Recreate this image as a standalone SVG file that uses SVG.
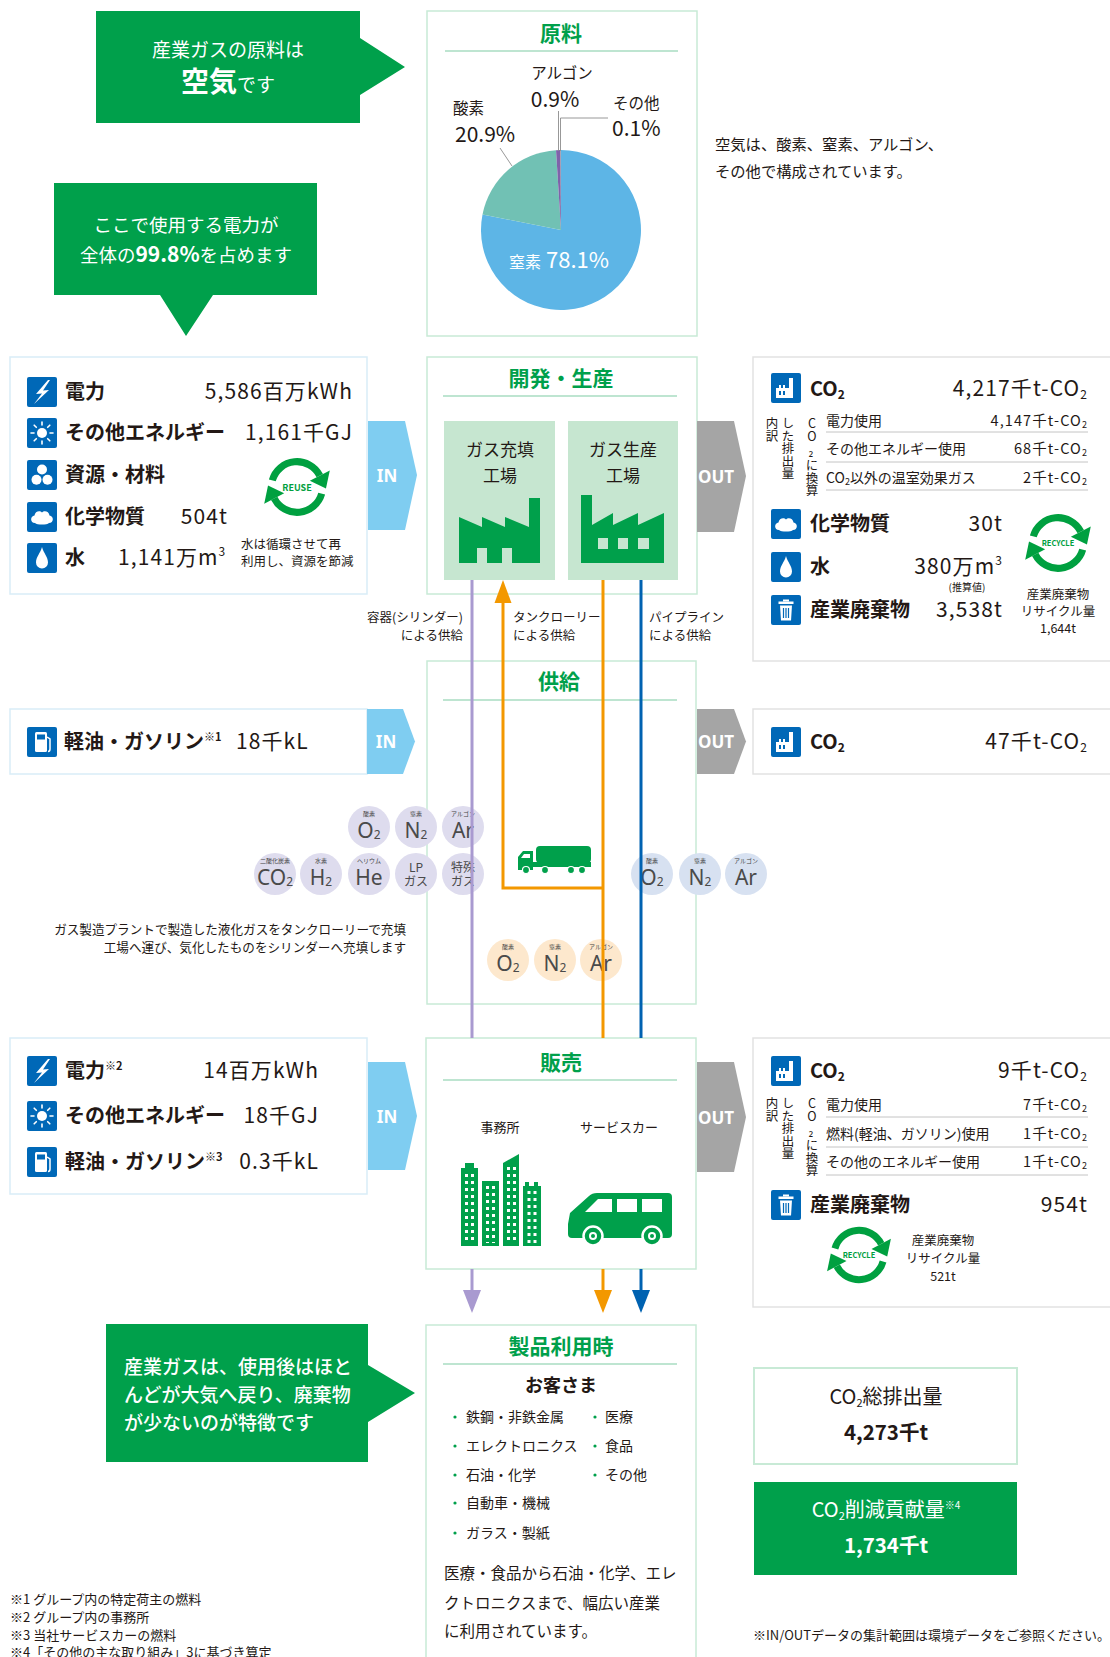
<svg xmlns="http://www.w3.org/2000/svg" width="1110" height="1657" viewBox="0 0 1110 1657">
<defs>
<style>
text{font-family:"Noto Sans CJK JP","Noto Sans",sans-serif;fill:#231815}
.w{fill:#fff}
.c{text-anchor:middle}
.e{text-anchor:end}
.b{font-weight:700}
.ttl{font-size:21px;font-weight:700;fill:#00a04b;text-anchor:middle}
.rule{stroke:#a9dcc2;stroke-width:1.5}
.cbox{fill:#fff;stroke:#c8ead6;stroke-width:1.5}
.lbox{fill:#fff;stroke:#d9edf7;stroke-width:1.5}
.rbox{fill:#fff;stroke:#e2e2e2;stroke-width:1.5}
.in{fill:#7fcdf1}
.out{fill:#a5a5a5}
.io{font-family:"Noto Sans","Liberation Sans",sans-serif;font-weight:700;font-size:17px;fill:#fff;text-anchor:middle}
.lab{font-size:20px;font-weight:700}
.val{font-size:21px;letter-spacing:1.1px}
.sm{font-size:14px}
.smv{font-size:14.5px;letter-spacing:1.1px}
.xs{font-size:12.5px}
.vt{font-size:12.5px;writing-mode:vertical-rl;text-orientation:upright}
.sep{stroke:#c4c4c4;stroke-width:1}
.g{fill:#00a04b}
.pale{fill:#c6e6d0}
.bp{fill:#dedcee}
.bb{fill:#d7e1f1}
.bo{fill:#fde8cd}
.bt{font-size:6px;text-anchor:middle;fill:#444}
.bf{font-size:21px;text-anchor:middle;fill:#4a4a4a;font-family:"Noto Sans","Liberation Sans",sans-serif}
.bj{font-size:12px;text-anchor:middle;fill:#4a4a4a}
.lead{stroke:#8c8c8c;stroke-width:0.9;fill:none}
.pu{stroke:#a99ad0;stroke-width:3;fill:none}
.or{stroke:#f39800;stroke-width:3;fill:none}
.bl{stroke:#0062b1;stroke-width:3;fill:none}
.win{stroke:#fff;stroke-width:3;stroke-dasharray:3 4}
</style>
<!-- blue pictogram tiles, 30x30 -->
<symbol id="i-bolt" viewBox="0 0 30 30"><rect width="30" height="30" rx="2" fill="#0068b7"/><path d="M21 3 L9 17 L15 16.5 L7 27 L22 13 L16 13.5 L23 3 Z" fill="#fff"/></symbol>
<symbol id="i-sun" viewBox="0 0 30 30"><rect width="30" height="30" rx="2" fill="#0068b7"/><circle cx="15" cy="15" r="5" fill="#fff"/><g stroke="#fff" stroke-width="1.6" stroke-linecap="round"><path d="M15 4V7M15 23V26M4 15H7M23 15H26M7.2 7.2L9.3 9.3M20.7 20.7L22.8 22.8M22.8 7.2L20.7 9.3M7.2 22.8L9.3 20.7"/></g></symbol>
<symbol id="i-res" viewBox="0 0 30 30"><rect width="30" height="30" rx="2" fill="#0068b7"/><g fill="#fff"><circle cx="15" cy="9.5" r="5"/><circle cx="9.5" cy="19.8" r="5"/><circle cx="20.5" cy="19.8" r="5"/></g></symbol>
<symbol id="i-chem" viewBox="0 0 30 30"><rect width="30" height="30" rx="2" fill="#0068b7"/><path d="M8 21 C3 21 3 14 7.5 13.5 C8 9 13 8 15 10.5 C17 8 22 9 22.5 13.5 C27 14 27 21 22 21 C20 23 10 23 8 21 Z" fill="#fff"/></symbol>
<symbol id="i-water" viewBox="0 0 30 30"><rect width="30" height="30" rx="2" fill="#0068b7"/><path d="M15 4 C13.5 10 9 14 9 19.5 A6 6 0 0 0 21 19.5 C21 14 16.5 10 15 4 Z" fill="#fff"/></symbol>
<symbol id="i-fuel" viewBox="0 0 30 30"><rect width="30" height="30" rx="2" fill="#0068b7"/><rect x="8" y="5" width="12" height="20" rx="1.5" fill="#fff"/><rect x="10" y="7.5" width="8" height="5" fill="#0068b7"/><path d="M20 10 L23 12 V22 Q23 24.5 21 24.5" stroke="#fff" stroke-width="1.5" fill="none"/></symbol>
<symbol id="i-co2" viewBox="0 0 30 30"><rect width="30" height="30" rx="2" fill="#0068b7"/><path d="M5 25 V15 H8 V12 H10 V15 H12 V12 H14 V15 H18 V5 H22 V25 Z" fill="#fff"/><rect x="8" y="18" width="2" height="4" fill="#0068b7"/><rect x="12" y="18" width="2" height="4" fill="#0068b7"/></symbol>
<symbol id="i-trash" viewBox="0 0 30 30"><rect width="30" height="30" rx="2" fill="#0068b7"/><g fill="#fff"><rect x="12" y="4.5" width="6" height="2"/><rect x="7.5" y="6.5" width="15" height="2.5"/><path d="M9 10.5 H21 L20 25.5 H10 Z"/></g><g stroke="#0068b7" stroke-width="1.2"><path d="M12.5 13V23M15 13V23M17.5 13V23"/></g></symbol>
<!-- twin circular arrows -->
<symbol id="loop" viewBox="-40 -40 80 80">
<g fill="#00a040">
<path d="M-26 -7 A27 27 0 0 1 24 -12" fill="none" stroke="#00a040" stroke-width="7.5"/>
<polygon points="34.5,-17.5 13.5,-6.5 30.5,1.5"/>
<g transform="rotate(180)"><path d="M-26 -7 A27 27 0 0 1 24 -12" fill="none" stroke="#00a040" stroke-width="7.5"/><polygon points="34.5,-17.5 13.5,-6.5 30.5,1.5"/></g>
</g>
</symbol>
</defs>

<rect width="1110" height="1657" fill="#fff"/>

<!-- speech callouts -->
<g id="callout-air">
<path d="M96 11 H360 V38 L405 67 L360 95 V123 H96 Z" class="g"/>
<text x="228" y="57" class="w c" font-size="19">産業ガスの原料は</text>
<text x="228" y="92" class="w c"><tspan font-size="28" font-weight="700">空気</tspan><tspan font-size="19">です</tspan></text>
</g>
<g id="callout-power">
<path d="M54 183 H317 V295 H213 L186 336 L160 295 H54 Z" class="g"/>
<text x="186" y="232" class="w c" font-size="18.5">ここで使用する電力が</text>
<text x="186" y="262" class="w c" font-size="18.5">全体の<tspan font-size="21" font-weight="700">99.8%</tspan>を占めます</text>
</g>
<g id="callout-after">
<path d="M106 1324 H368 V1365 L415 1393 L368 1422 V1462 H106 Z" class="g"/>
<text x="124" y="1374" class="w" font-size="19" font-weight="500">産業ガスは、使用後はほと</text>
<text x="124" y="1402" class="w" font-size="19" font-weight="500">んどが大気へ戻り、廃棄物</text>
<text x="124" y="1430" class="w" font-size="19" font-weight="500">が少ないのが特徴です</text>
</g>

<!-- raw material -->
<g id="raw">
<rect x="427" y="11" width="270" height="325" class="cbox"/>
<text x="561" y="41" class="ttl">原料</text>
<line x1="445" y1="51" x2="678" y2="51" class="rule"/>
<path d="M561 230 L561 150 A80 80 0 1 1 482.5 214.5 Z" fill="#5db5e6"/>
<path d="M561 230 L482.5 214.5 A80 80 0 0 1 556 150.2 Z" fill="#71c1b4"/>
<path d="M561 230 L556 150.2 A80 80 0 0 1 560.5 150 Z" fill="#7f62aa"/>
<path d="M561 230 L560.5 150 A80 80 0 0 1 561 150 Z" fill="#999"/>
<text x="559" y="268" class="w c"><tspan font-size="16">窒素</tspan><tspan font-size="22"> 78.1%</tspan></text>
<line x1="500" y1="148" x2="512" y2="166" class="lead"/>
<line x1="558.5" y1="111" x2="558.5" y2="151" class="lead"/>
<polyline points="560.5,151 560.5,118 608,118" class="lead"/>
<text x="562" y="79" class="c" font-size="15.5">アルゴン</text>
<text x="555" y="107" class="c" font-size="21">0.9%</text>
<text x="453" y="114" font-size="15.5">酸素</text>
<text x="455" y="142" font-size="21">20.9%</text>
<text x="613" y="109" font-size="15.5">その他</text>
<text x="612" y="136" font-size="21">0.1%</text>
</g>
<g id="air-note">
<text x="715" y="150" font-size="15.3">空気は、酸素、窒素、アルゴン、</text>
<text x="715" y="177" font-size="15.3">その他で構成されています。</text>
</g>

<!-- inputs to development / production -->
<g id="in-dev">
<rect x="10" y="357" width="357" height="237" class="lbox"/>
<use href="#i-bolt" x="27" y="377" width="30" height="30"/>
<use href="#i-sun" x="27" y="418" width="30" height="30"/>
<use href="#i-res" x="27" y="460" width="30" height="30"/>
<use href="#i-chem" x="27" y="502" width="30" height="30"/>
<use href="#i-water" x="27" y="543" width="30" height="30"/>
<text x="65" y="399" class="lab">電力</text>
<text x="65" y="440" class="lab">その他エネルギー</text>
<text x="65" y="482" class="lab">資源・材料</text>
<text x="65" y="524" class="lab">化学物質</text>
<text x="65" y="565" class="lab">水</text>
<text x="353" y="399" class="val e">5,586百万kWh</text>
<text x="353" y="440" class="val e">1,161千GJ</text>
<text x="228" y="524" class="val e">504t</text>
<text x="118" y="565" class="val">1,141万m<tspan font-size="12" dy="-9">3</tspan></text>
<use href="#loop" x="259" y="449" width="76" height="76"/>
<text x="297" y="491" class="c b" font-size="9" style="fill:#00a040">REUSE</text>
<text x="241" y="549" font-size="12.5">水は循環させて再</text>
<text x="241" y="566" font-size="12.5">利用し、資源を節減</text>
</g>

<!-- development / production -->
<g id="dev">
<rect x="427" y="357" width="270" height="237" class="cbox"/>
<text x="561" y="386" class="ttl">開発・生産</text>
<line x1="443" y1="396" x2="677" y2="396" class="rule"/>
<rect x="444" y="421" width="111" height="159" class="pale"/>
<rect x="568" y="421" width="110" height="159" class="pale"/>
<text x="500" y="456" class="c" font-size="17" fill="#3b3b3b">ガス充填</text>
<text x="500" y="482" class="c" font-size="17" fill="#3b3b3b">工場</text>
<text x="623" y="456" class="c" font-size="17" fill="#3b3b3b">ガス生産</text>
<text x="623" y="482" class="c" font-size="17" fill="#3b3b3b">工場</text>
<path d="M459 563 V517 L482 527 V517 L505 527 V517 L529 527 V498 H540 V563 Z" class="g"/>
<rect x="477" y="548" width="10" height="15" class="pale"/>
<rect x="502" y="548" width="10" height="15" class="pale"/>
<path d="M581 563 V495 H592 V525 L613 513 V525 L638 513 V525 L664 513 V563 Z" class="g"/>
<rect x="598" y="538" width="10" height="11" class="pale"/>
<rect x="618" y="538" width="10" height="11" class="pale"/>
<rect x="638" y="538" width="11" height="11" class="pale"/>
</g>

<!-- outputs of development / production -->
<g id="out-dev">
<rect x="753" y="357" width="362" height="304" class="rbox"/>
<use href="#i-co2" x="771" y="373" width="30" height="30"/>
<text x="810" y="396" class="lab">CO<tspan font-size="12" dy="3">2</tspan></text>
<text x="1088" y="396" class="val e">4,217千t-CO<tspan font-size="12" dy="3">2</tspan></text>
<g id="vt-dev">
<text x="772" y="417" class="vt">内訳</text>
<text x="788" y="417" class="vt">した排出量</text>
<text x="812" y="417" class="vt" font-size="11.5">CO₂に換算</text>
</g>
<text x="826" y="426" class="sm">電力使用</text>
<text x="1088" y="426" class="smv e">4,147千t-CO<tspan font-size="9" dy="2">2</tspan></text>
<line x1="826" y1="432" x2="1088" y2="432" class="sep"/>
<text x="826" y="454" class="sm">その他エネルギー使用</text>
<text x="1088" y="454" class="smv e">68千t-CO<tspan font-size="9" dy="2">2</tspan></text>
<line x1="826" y1="462" x2="1088" y2="462" class="sep"/>
<text x="826" y="483" class="sm">CO<tspan font-size="9" dy="2">2</tspan><tspan dy="-2">以外の温室効果ガス</tspan></text>
<text x="1088" y="483" class="smv e">2千t-CO<tspan font-size="9" dy="2">2</tspan></text>
<line x1="826" y1="490" x2="1088" y2="490" class="sep"/>
<use href="#i-chem" x="771" y="509" width="30" height="30"/>
<use href="#i-water" x="771" y="552" width="30" height="30"/>
<use href="#i-trash" x="771" y="595" width="30" height="30"/>
<text x="810" y="531" class="lab" font-size="21">化学物質</text>
<text x="810" y="574" class="lab" font-size="21">水</text>
<text x="810" y="617" class="lab" font-size="21">産業廃棄物</text>
<text x="1003" y="531" class="val e">30t</text>
<text x="1003" y="574" class="val e">380万m<tspan font-size="12" dy="-9">3</tspan></text>
<text x="967" y="591" class="c" font-size="10">(推算値)</text>
<text x="1003" y="617" class="val e">3,538t</text>
<use href="#loop" x="1020" y="505" width="76" height="76"/>
<text x="1058" y="546" class="c b" font-size="7.5" style="fill:#00a040">RECYCLE</text>
<text x="1058" y="599" class="c xs">産業廃棄物</text>
<text x="1058" y="616" class="c xs">リサイクル量</text>
<text x="1058" y="633" class="c xs">1,644t</text>
</g>

<!-- supply -->
<g id="supply">
<rect x="427" y="661" width="269" height="343" class="cbox"/>
<text x="559" y="689" class="ttl">供給</text>
<line x1="443" y1="700" x2="677" y2="700" class="rule"/>
<g id="truck" class="g">
<path d="M518 870 V857 L523 851 H533 V870 Z"/>
<rect x="536" y="846" width="55" height="17" rx="4"/>
<rect x="533" y="862" width="58" height="5"/>
<polygon points="521,858 524,854 530,854 530,858" fill="#fff"/>
<g stroke="#fff" stroke-width="1.2"><circle cx="526" cy="870" r="3.5"/><circle cx="545" cy="870" r="3.5"/><circle cx="571" cy="870" r="3.5"/><circle cx="582" cy="870" r="3.5"/></g>
</g>
</g>
<g id="supply-labels">
<text x="463" y="622" class="e xs">容器(シリンダー)</text>
<text x="463" y="640" class="e xs">による供給</text>
<text x="513" y="622" class="xs">タンクローリー</text>
<text x="513" y="640" class="xs">による供給</text>
<text x="649" y="622" class="xs">パイプライン</text>
<text x="649" y="640" class="xs">による供給</text>
<text x="406" y="934" class="e" font-size="12.6">ガス製造プラントで製造した液化ガスをタンクローリーで充填</text>
<text x="406" y="952" class="e" font-size="12.6">工場へ運び、気化したものをシリンダーへ充填します</text>
</g>

<g id="in-supply">
<rect x="10" y="709" width="357" height="65" class="lbox"/>
<use href="#i-fuel" x="27" y="727" width="30" height="30"/>
<text x="64" y="749" class="lab">軽油・ガソリン<tspan font-size="11" dy="-8">※1</tspan></text>
<text x="236" y="749" class="val">18千kL</text>
</g>
<g id="out-supply">
<rect x="753" y="709" width="362" height="65" class="rbox"/>
<use href="#i-co2" x="771" y="727" width="30" height="30"/>
<text x="810" y="749" class="lab">CO<tspan font-size="12" dy="3">2</tspan></text>
<text x="1088" y="749" class="val e">47千t-CO<tspan font-size="12" dy="3">2</tspan></text>
</g>

<!-- gas bubbles -->
<g id="gases">
<g id="cyl-o2"><circle cx="369" cy="827" r="21" class="bp"/><text x="369" y="816" class="bt">酸素</text><text x="369" y="838" class="bf">O<tspan font-size="12" dy="1">2</tspan></text></g>
<g id="cyl-n2"><circle cx="416" cy="827" r="21" class="bp"/><text x="416" y="816" class="bt">窒素</text><text x="416" y="838" class="bf">N<tspan font-size="12" dy="1">2</tspan></text></g>
<g id="cyl-ar"><circle cx="463" cy="827" r="21" class="bp"/><text x="463" y="816" class="bt">アルゴン</text><text x="463" y="838" class="bf">Ar</text></g>
<g id="cyl-co2"><circle cx="275" cy="874" r="21" class="bp"/><text x="275" y="863" class="bt">二酸化炭素</text><text x="275" y="885" class="bf">CO<tspan font-size="12" dy="1">2</tspan></text></g>
<g id="cyl-h2"><circle cx="321" cy="874" r="21" class="bp"/><text x="321" y="863" class="bt">水素</text><text x="321" y="885" class="bf">H<tspan font-size="12" dy="1">2</tspan></text></g>
<g id="cyl-he"><circle cx="369" cy="874" r="21" class="bp"/><text x="369" y="863" class="bt">ヘリウム</text><text x="369" y="885" class="bf">He</text></g>
<g id="cyl-lp"><circle cx="416" cy="874" r="21" class="bp"/><text x="416" y="872" class="bj">LP</text><text x="416" y="886" class="bj">ガス</text></g>
<g id="cyl-sp"><circle cx="463" cy="874" r="21" class="bp"/><text x="463" y="872" class="bj">特殊</text><text x="463" y="886" class="bj">ガス</text></g>
<g id="pipe-o2"><circle cx="652" cy="874" r="21" class="bb"/><text x="652" y="863" class="bt">酸素</text><text x="652" y="885" class="bf">O<tspan font-size="12" dy="1">2</tspan></text></g>
<g id="pipe-n2"><circle cx="700" cy="874" r="21" class="bb"/><text x="700" y="863" class="bt">窒素</text><text x="700" y="885" class="bf">N<tspan font-size="12" dy="1">2</tspan></text></g>
<g id="pipe-ar"><circle cx="746" cy="874" r="21" class="bb"/><text x="746" y="863" class="bt">アルゴン</text><text x="746" y="885" class="bf">Ar</text></g>
<g id="tank-o2"><circle cx="508" cy="960" r="21" class="bo"/><text x="508" y="949" class="bt">酸素</text><text x="508" y="971" class="bf">O<tspan font-size="12" dy="1">2</tspan></text></g>
<g id="tank-n2"><circle cx="555" cy="960" r="21" class="bo"/><text x="555" y="949" class="bt">窒素</text><text x="555" y="971" class="bf">N<tspan font-size="12" dy="1">2</tspan></text></g>
<g id="tank-ar"><circle cx="601" cy="960" r="21" class="bo"/><text x="601" y="949" class="bt">アルゴン</text><text x="601" y="971" class="bf">Ar</text></g>
</g>

<!-- inputs / outputs of sales -->
<g id="in-sales">
<rect x="10" y="1038" width="357" height="156" class="lbox"/>
<use href="#i-bolt" x="27" y="1056" width="30" height="30"/>
<use href="#i-sun" x="27" y="1101" width="30" height="30"/>
<use href="#i-fuel" x="27" y="1147" width="30" height="30"/>
<text x="65" y="1078" class="lab">電力<tspan font-size="11" dy="-8">※2</tspan></text>
<text x="65" y="1123" class="lab">その他エネルギー</text>
<text x="65" y="1169" class="lab">軽油・ガソリン<tspan font-size="11" dy="-8">※3</tspan></text>
<text x="319" y="1078" class="val e">14百万kWh</text>
<text x="319" y="1123" class="val e">18千GJ</text>
<text x="319" y="1169" class="val e">0.3千kL</text>
</g>

<g id="sales">
<rect x="426" y="1038" width="270" height="231" class="cbox"/>
<text x="561" y="1070" class="ttl">販売</text>
<line x1="443" y1="1080" x2="677" y2="1080" class="rule"/>
<text x="500" y="1132" class="c" font-size="13">事務所</text>
<text x="619" y="1132" class="c" font-size="13">サービスカー</text>
<g id="offices">
<g class="g">
<rect x="461" y="1168" width="17" height="78"/><rect x="465" y="1163" width="9" height="6"/>
<rect x="482" y="1181" width="17" height="65"/>
<polygon points="503,1163 519,1154 519,1246 503,1246"/>
<rect x="523" y="1186" width="18" height="60"/><rect x="525" y="1182" width="4" height="5"/><rect x="534" y="1182" width="4" height="5"/>
</g>
<line x1="466.5" y1="1174" x2="466.5" y2="1243" class="win"/><line x1="472.5" y1="1174" x2="472.5" y2="1243" class="win"/>
<line x1="487.5" y1="1186" x2="487.5" y2="1243" class="win"/><line x1="493.5" y1="1186" x2="493.5" y2="1243" class="win"/>
<line x1="508.5" y1="1167" x2="508.5" y2="1243" class="win"/><line x1="514.5" y1="1167" x2="514.5" y2="1243" class="win"/>
<line x1="529" y1="1191" x2="529" y2="1243" class="win"/><line x1="535" y1="1191" x2="535" y2="1243" class="win"/>
</g>
<g id="van">
<path d="M568 1224 L570 1213 L589 1196 Q592 1193 597 1193 L668 1193 Q672 1193 672 1197 L672 1234 Q672 1238 668 1238 L572 1238 Q568 1238 568 1234 Z" class="g"/>
<polygon points="585,1212 598,1199 612,1199 612,1212" fill="#fff"/>
<rect x="617" y="1199" width="20" height="13" fill="#fff"/>
<rect x="642" y="1199" width="20" height="13" fill="#fff"/>
<circle cx="593" cy="1236" r="9.5" class="g" stroke="#fff" stroke-width="2.5"/><circle cx="593" cy="1236" r="4" fill="#fff"/><circle cx="593" cy="1236" r="2" class="g"/>
<circle cx="652" cy="1236" r="9.5" class="g" stroke="#fff" stroke-width="2.5"/><circle cx="652" cy="1236" r="4" fill="#fff"/><circle cx="652" cy="1236" r="2" class="g"/>
</g>
</g>

<g id="out-sales">
<rect x="753" y="1038" width="362" height="269" class="rbox"/>
<use href="#i-co2" x="771" y="1056" width="30" height="30"/>
<text x="810" y="1078" class="lab">CO<tspan font-size="12" dy="3">2</tspan></text>
<text x="1088" y="1078" class="val e">9千t-CO<tspan font-size="12" dy="3">2</tspan></text>
<g id="vt-sales">
<text x="772" y="1097" class="vt">内訳</text>
<text x="788" y="1097" class="vt">した排出量</text>
<text x="812" y="1097" class="vt" font-size="11.5">CO₂に換算</text>
</g>
<text x="826" y="1110" class="sm">電力使用</text>
<text x="1088" y="1110" class="smv e">7千t-CO<tspan font-size="9" dy="2">2</tspan></text>
<line x1="826" y1="1117" x2="1088" y2="1117" class="sep"/>
<text x="826" y="1139" class="sm">燃料(軽油、ガソリン)使用</text>
<text x="1088" y="1139" class="smv e">1千t-CO<tspan font-size="9" dy="2">2</tspan></text>
<line x1="826" y1="1147" x2="1088" y2="1147" class="sep"/>
<text x="826" y="1167" class="sm">その他のエネルギー使用</text>
<text x="1088" y="1167" class="smv e">1千t-CO<tspan font-size="9" dy="2">2</tspan></text>
<line x1="826" y1="1175" x2="1088" y2="1175" class="sep"/>
<use href="#i-trash" x="771" y="1190" width="30" height="30"/>
<text x="810" y="1212" class="lab" font-size="21">産業廃棄物</text>
<text x="1088" y="1212" class="val e">954t</text>
<use href="#loop" x="822" y="1218" width="74" height="74"/>
<text x="859" y="1258" class="c b" font-size="7.5" style="fill:#00a040">RECYCLE</text>
<text x="943" y="1245" class="c xs">産業廃棄物</text>
<text x="943" y="1263" class="c xs">リサイクル量</text>
<text x="943" y="1281" class="c xs">521t</text>
</g>

<!-- product use -->
<g id="customers">
<rect x="426" y="1325" width="270" height="345" class="cbox"/>
<text x="561" y="1354" class="ttl">製品利用時</text>
<line x1="443" y1="1364" x2="677" y2="1364" class="rule"/>
<text x="561" y="1392" class="c b" font-size="18">お客さま</text>
<g class="g"><circle cx="455" cy="1417" r="1.6"/><circle cx="455" cy="1446" r="1.6"/><circle cx="455" cy="1475" r="1.6"/><circle cx="455" cy="1503" r="1.6"/><circle cx="455" cy="1533" r="1.6"/><circle cx="595" cy="1417" r="1.6"/><circle cx="595" cy="1446" r="1.6"/><circle cx="595" cy="1475" r="1.6"/></g>
<text x="466" y="1422" class="sm">鉄鋼・非鉄金属</text>
<text x="466" y="1451" class="sm">エレクトロニクス</text>
<text x="466" y="1480" class="sm">石油・化学</text>
<text x="466" y="1508" class="sm">自動車・機械</text>
<text x="466" y="1538" class="sm">ガラス・製紙</text>
<text x="605" y="1422" class="sm">医療</text>
<text x="605" y="1451" class="sm">食品</text>
<text x="605" y="1480" class="sm">その他</text>
<text x="444" y="1579" font-size="15.5">医療・食品から石油・化学、エレ</text>
<text x="444" y="1609" font-size="15.5">クトロニクスまで、幅広い産業</text>
<text x="444" y="1637" font-size="15.5">に利用されています。</text>
</g>

<g id="co2-total">
<rect x="754" y="1368" width="263" height="96" fill="#fff" stroke="#c8ead6" stroke-width="2"/>
<text x="886" y="1404" class="c" font-size="20">CO<tspan font-size="11" dy="3">2</tspan><tspan dy="-3">総排出量</tspan></text>
<text x="886" y="1440" class="c b" font-size="20.5">4,273千t</text>
</g>
<g id="co2-reduction">
<rect x="754" y="1482" width="263" height="93" class="g"/>
<text x="886" y="1517" class="c w" font-size="20">CO<tspan font-size="11" dy="3">2</tspan><tspan dy="-3">削減貢献量</tspan><tspan font-size="10" dy="-8">※4</tspan></text>
<text x="886" y="1553" class="c w b" font-size="20.5">1,734千t</text>
</g>

<g id="notes">
<text x="753" y="1640" font-size="13">※IN/OUTデータの集計範囲は環境データをご参照ください。</text>
<text x="10" y="1604" font-size="13">※1 グループ内の特定荷主の燃料</text>
<text x="10" y="1622" font-size="13">※2 グループ内の事務所</text>
<text x="10" y="1640" font-size="13">※3 当社サービスカーの燃料</text>
<text x="10" y="1657" font-size="13">※4「その他の主な取り組み」3に基づき算定</text>
</g>

<!-- IN / OUT chevrons -->
<g id="flow-arrows">
<polygon points="368,421 405,421 417,475 405,530 368,530" class="in"/><text x="387" y="482" class="io">IN</text>
<polygon points="367,709 403,709 415,741.5 403,774 367,774" class="in"/><text x="386" y="748" class="io">IN</text>
<polygon points="368,1062 405,1062 417,1116 405,1170 368,1170" class="in"/><text x="387" y="1123" class="io">IN</text>
<polygon points="697,421 734,421 746,476 734,532 697,532" class="out"/><text x="716" y="483" class="io">OUT</text>
<polygon points="697,709 734,709 746,741.5 734,774 697,774" class="out"/><text x="716" y="748" class="io">OUT</text>
<polygon points="697,1062 734,1062 746,1117 734,1172 697,1172" class="out"/><text x="716" y="1124" class="io">OUT</text>
</g>

<!-- supply routes -->
<g id="connectors">
<line x1="472" y1="580" x2="472" y2="1038" class="pu"/>
<line x1="603" y1="580" x2="603" y2="1038" class="or"/>
<polyline points="603,888 503,888 503,600" class="or"/>
<polygon points="503,580 494.5,603 511.5,603" fill="#f39800"/>
<line x1="641" y1="580" x2="641" y2="1038" class="bl"/>
<line x1="472" y1="1269" x2="472" y2="1292" class="pu"/>
<polygon points="472,1313 463,1290 481,1290" fill="#a99ad0"/>
<line x1="603" y1="1269" x2="603" y2="1292" class="or"/>
<polygon points="603,1313 594,1290 612,1290" fill="#f39800"/>
<line x1="641" y1="1269" x2="641" y2="1292" class="bl"/>
<polygon points="641,1313 632,1290 650,1290" fill="#0062b1"/>
</g>
</svg>
